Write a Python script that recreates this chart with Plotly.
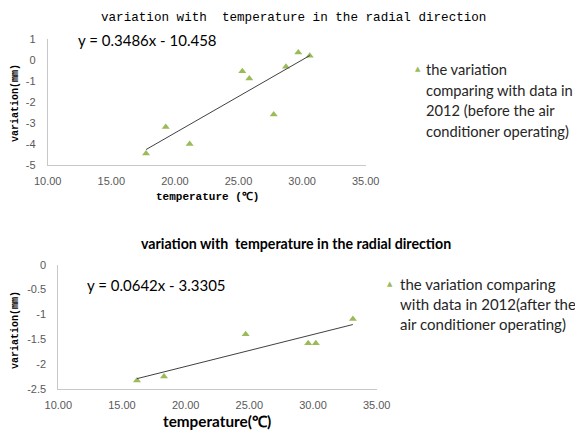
import plotly.graph_objects as go

# ---- data: top chart (before air conditioner operating)
temp_before = [17.73, 19.28, 21.16, 25.30, 25.85, 27.77, 28.73, 29.70, 30.60]
var_before = [-4.47, -3.20, -4.01, -0.54, -0.88, -2.60, -0.32, 0.36, 0.20]
slope_before, intercept_before = 0.3486, -10.458

# ---- data: bottom chart (after air conditioner operating)
temp_after = [16.18, 18.30, 24.71, 29.62, 30.22, 33.13]
var_after = [-2.33, -2.25, -1.40, -1.58, -1.58, -1.09]
slope_after, intercept_after = 0.0642, -3.3305

x_tick_vals = [10, 15, 20, 25, 30, 35]
x_tick_text = ["10.00", "15.00", "20.00", "25.00", "30.00", "35.00"]
y_top_vals = [1, 0, -1, -2, -3, -4, -5]
y_top_text = ["1", "0", "-1", "-2", "-3", "-4", "-5"]
y_bot_vals = [0, -0.5, -1, -1.5, -2, -2.5]
y_bot_text = ["0", "-0.5", "-1", "-1.5", "-2", "-2.5"]

title_text = "variation with  temperature in the radial direction"
legend_before = ["the variation", "comparing with data in", "2012 (before the air", "conditioner operating)"]
legend_after = ["the variation comparing", "with data in 2012(after the", "air conditioner operating)"]

W, H = 583, 435
PAGE_OFFSET = 8  # default page margin around the plot div
GREEN = "#9BBB59"
LINE = "#404040"
AXIS = "#C8C8C8"
TICK = "#595959"
TICKFONT = dict(family="Liberation Sans, Arial, sans-serif", size=11, color=TICK)
MONO = "Liberation Mono, DejaVu Sans Mono, monospace"
SANS = "Lato, Liberation Sans, sans-serif"

def px_x(p):
    return (p - PAGE_OFFSET) / W

def px_y(p):
    return 1 - (p - PAGE_OFFSET) / H

fig = go.Figure()

# top chart
fig.add_trace(go.Scatter(x=temp_before, y=var_before, mode="markers", xaxis="x", yaxis="y",
                         marker=dict(symbol="triangle-up", size=7, color=GREEN),
                         name="before", showlegend=False))
tx = [min(temp_before), max(temp_before)]
fig.add_trace(go.Scatter(x=tx, y=[slope_before * v + intercept_before for v in tx], mode="lines",
                         xaxis="x", yaxis="y", line=dict(color=LINE, width=1), showlegend=False,
                         hoverinfo="skip"))

# bottom chart
fig.add_trace(go.Scatter(x=temp_after, y=var_after, mode="markers", xaxis="x2", yaxis="y2",
                         marker=dict(symbol="triangle-up", size=7, color=GREEN),
                         name="after", showlegend=False))
bx = [min(temp_after), max(temp_after)]
fig.add_trace(go.Scatter(x=bx, y=[slope_after * v + intercept_after for v in bx], mode="lines",
                         xaxis="x2", yaxis="y2", line=dict(color=LINE, width=1), showlegend=False,
                         hoverinfo="skip"))

common_x = dict(range=[10, 35], tickvals=x_tick_vals, ticktext=x_tick_text, showgrid=False,
                zeroline=False, showline=True, linecolor=AXIS, linewidth=1, ticks="",
                tickfont=TICKFONT, fixedrange=True, automargin=False, ticklabelstandoff=6)
common_y = dict(showgrid=False, zeroline=False, showline=True, linecolor=AXIS, linewidth=1,
                ticks="", tickfont=TICKFONT, fixedrange=True, automargin=False, ticklabelstandoff=9)

fig.update_layout(
    width=W, height=H, margin=dict(l=0, r=0, t=0, b=0, autoexpand=False),
    paper_bgcolor="white", plot_bgcolor="white", showlegend=False,
    xaxis=dict(domain=[px_x(47.7), px_x(365.7)], anchor="y", **common_x),
    yaxis=dict(domain=[px_y(164.7), px_y(39)], anchor="x", range=[-5, 1],
               tickvals=y_top_vals, ticktext=y_top_text, **common_y),
    xaxis2=dict(domain=[px_x(58.3), px_x(376.7)], anchor="y2", **common_x),
    yaxis2=dict(domain=[px_y(389), px_y(264.7)], anchor="x2", range=[-2.5, 0],
                tickvals=y_bot_vals, ticktext=y_bot_text, **common_y),
)

annotations = [
    dict(text=title_text, x=293.5, y=18, font=dict(family=MONO, size=12.6, color="#000000")),
    dict(text="y = 0.3486x - 10.458", x=147, y=40, font=dict(family=SANS, size=15, color="#000000")),
    dict(text="<b>temperature (℃)</b>", x=207, y=197, font=dict(family=MONO, size=11, color="#000000")),
    dict(text="<b>variation(mm)</b>", x=15, y=103, textangle=-90, font=dict(family=MONO, size=10, color="#000000")),
    dict(text="<b>" + title_text + "</b>", x=296, y=243, font=dict(family=SANS, size=14.2, color="#000000")),
    dict(text="y = 0.0642x - 3.3305", x=156, y=284.7, font=dict(family=SANS, size=15, color="#000000")),
    dict(text="<b>temperature(℃)</b>", x=217, y=421, font=dict(family=SANS, size=15.3, color="#000000")),
    dict(text="<b>variation(mm)</b>", x=15, y=330, textangle=-90, font=dict(family=MONO, size=10, color="#000000")),
    # legend symbols
    dict(text="▲", x=418, y=69, font=dict(family="DejaVu Sans", size=7, color=GREEN)),
    dict(text="▲", x=390, y=284, font=dict(family="DejaVu Sans", size=7, color=GREEN)),
]
for a in annotations:
    a.update(xanchor="center")
# legend text lines
for i, line in enumerate(legend_before):
    annotations.append(dict(text=line, x=424, y=69 + 20.7 * i, xanchor="left",
                            font=dict(family=SANS, size=14.7, color="#262626")))
for i, line in enumerate(legend_after):
    annotations.append(dict(text=line, x=398, y=284 + 20.2 * i, xanchor="left",
                            font=dict(family=SANS, size=15, color="#262626")))
for a in annotations:
    a.update(x=px_x(a["x"]), y=px_y(a["y"]), xref="paper", yref="paper", showarrow=False,
             yanchor="middle")
fig.update_layout(annotations=annotations)

fig.write_html("out.html")
